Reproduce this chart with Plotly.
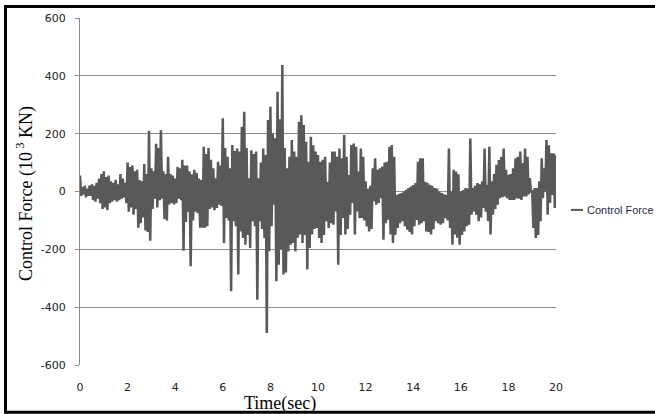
import plotly.graph_objects as go

# Sample times (s), 0.1 s spacing; each sample has an upper and a lower swing
time_s = [round(i * 0.1, 1) for i in range(201)]

upper_kn = [
    55, 15, 20, 10, 20, 25, 20, 30, 45, 60,
    70, 50, 55, 35, 30, 40, 25, 60, 45, 30,
    100, 85, 90, 70, 75, 40, 35, 95, 60, 210,
    80, 70, 165, 150, 212, 70, 60, 120, 60, 55,
    45, 85, 80, 110, 90, 90, 70, 60, 75, 65,
    45, 40, 155, 130, 150, 110, 80, 46, 103, 90,
    253, 150, 120, 80, 161, 140, 149, 138, 224, 276,
    150, 46, 143, 130, 138, 46, 100, 149, 126, 247,
    293, 200, 184, 345, 250, 437, 150, 80, 120, 178,
    138, 120, 241, 264, 230, 172, 103, 189, 160, 138,
    126, 103, 110, 120, 34, 100, 138, 138, 120, 149,
    115, 195, 120, 57, 161, 166, 155, 69, 149, 120,
    35, 10, 20, 80, 115, 75, 80, 86, 100, 103,
    155, 161, 120, -12, -8, -6, 0, 6, 12, 17,
    22, 29, 103, 115, 115, 34, 30, 23, 20, 12,
    10, 0, -5, -10, -12, 149, 0, 75, 69, 60,
    0, 5, 12, 10, 183, 12, 20, 29, 25, 35,
    149, 23, 155, 35, 60, 92, 109, 120, 149, 75,
    58, 60, 80, 115, 120, 138, 98, 149, 120, 46,
    0, 12, 12, 35, 115, 80, 178, 160, 132, 132,
    126,
]

lower_kn = [
    -15, -10, -20, -15, -15, -30, -35, -25, -40, -60,
    -55, -65, -40, -35, -30, -35, -30, -25, -20, -40,
    -70, -55, -80, -60, -125, -110, -90, -135, -140, -170,
    -60, -25, -55, -30, -25, -95, -100, -45, -40, -45,
    -40, -25, -30, -205, -105, -70, -258, -100, -70, -75,
    -125, -125, -125, -120, -60, -55, -65, -57, -46, -50,
    -178, -92, -100, -345, -103, -120, -287, -138, -161, -184,
    -150, -195, -103, -120, -374, -103, -130, -161, -489, -207,
    -120, -46, -310, -253, -200, -287, -280, -207, -184, -178,
    -207, -160, -149, -178, -150, -270, -195, -149, -130, -126,
    -161, -178, -150, -103, -126, -110, -115, -69, -253, -150,
    -92, -149, -130, -80, -40, -149, -69, -92, -92, -100,
    -121, -138, -130, -34, -46, -40, -23, -167, -110, -98,
    -149, -178, -150, -126, -110, -103, -120, -132, -140, -149,
    -120, -98, -115, -110, -103, -138, -140, -149, -130, -103,
    -110, -115, -110, -92, -100, -126, -184, -149, -160, -184,
    -150, -138, -120, -115, -80, -69, -80, -103, -90, -57,
    -70, -103, -149, -80, -60, -46, -23, -20, -17, -23,
    -29, -29, -29, -23, -25, -29, -17, -17, -10, 0,
    -126, -161, -150, -103, -23, 0, -80, -40, -12, -57,
    -75,
]

x_ticks = [0, 2, 4, 6, 8, 10, 12, 14, 16, 18, 20]
y_ticks = [-600, -400, -200, 0, 200, 400, 600]
y_tick_text = ["-600", "-400", "-200", "0", "200", "400", "600"]

# interleave the upper and lower swings into one oscillating series
xs, ys = [], []
for t, u, l in zip(time_s, upper_kn, lower_kn):
    xs.extend([t, t + 0.05])
    ys.extend([u, l])
xs = xs[:-1]
ys = ys[:-1]

fig = go.Figure()
fig.add_trace(go.Scatter(
    x=xs, y=ys, mode="lines", name="Control Force",
    line=dict(color="#595959", width=2.5), showlegend=False,
))

grid = "#8c8c8c"
fig.update_layout(
    width=655, height=414,
    margin=dict(l=80, r=99, t=16, b=49),
    paper_bgcolor="white", plot_bgcolor="white",
    font=dict(family="DejaVu Sans", size=11, color="#222222"),
    xaxis=dict(
        range=[0, 20], tickvals=x_ticks, ticktext=[str(v) for v in x_ticks],
        showgrid=False, zeroline=False, showline=False, ticks="",
        ticklabelstandoff=14,
        tickfont=dict(family="DejaVu Sans", size=11, color="#222222"),
    ),
    yaxis=dict(
        range=[-600, 600], tickvals=y_ticks, ticktext=y_tick_text,
        showgrid=True, gridcolor=grid, gridwidth=1, zeroline=False,
        showline=True, linecolor=grid, linewidth=1,
        ticks="outside", ticklen=4, tickcolor=grid,
        ticklabelstandoff=7,
        tickfont=dict(family="DejaVu Sans", size=11, color="#222222"),
    ),
    annotations=[
        dict(text="Time(sec)", x=(280 - 80) / 476, y=(365 - 404) / 349,
             xref="paper", yref="paper", showarrow=False,
             font=dict(family="Liberation Serif", size=18, color="black"),
             xanchor="center", yanchor="middle"),
        dict(text="Control Force (10<sup> 3</sup> KN)", x=(25 - 80) / 476,
             y=(365 - 193) / 349, xref="paper", yref="paper", showarrow=False,
             textangle=-90,
             font=dict(family="Liberation Serif", size=18, color="black"),
             xanchor="center", yanchor="middle"),
        dict(text="Control Force", x=(585 - 80) / 476, y=(365 - 209) / 349,
             xref="paper", yref="paper", showarrow=False,
             font=dict(family="Liberation Sans", size=11, color="#1f2a50"),
             xanchor="left", yanchor="middle"),
    ],
    shapes=[
        dict(type="line", xref="paper", yref="paper",
             x0=(571 - 80) / 476, x1=(583 - 80) / 476,
             y0=(365 - 209) / 349, y1=(365 - 209) / 349,
             line=dict(color="#595959", width=2)),
        dict(type="rect", xref="paper", yref="paper",
             x0=(5.5 - 80) / 476, x1=(658 - 80) / 476,
             y0=(365 - 412.5) / 349, y1=(365 - 4.5) / 349,
             line=dict(color="black", width=3), fillcolor="rgba(0,0,0,0)"),
    ],
)

fig.write_html("out.html")
